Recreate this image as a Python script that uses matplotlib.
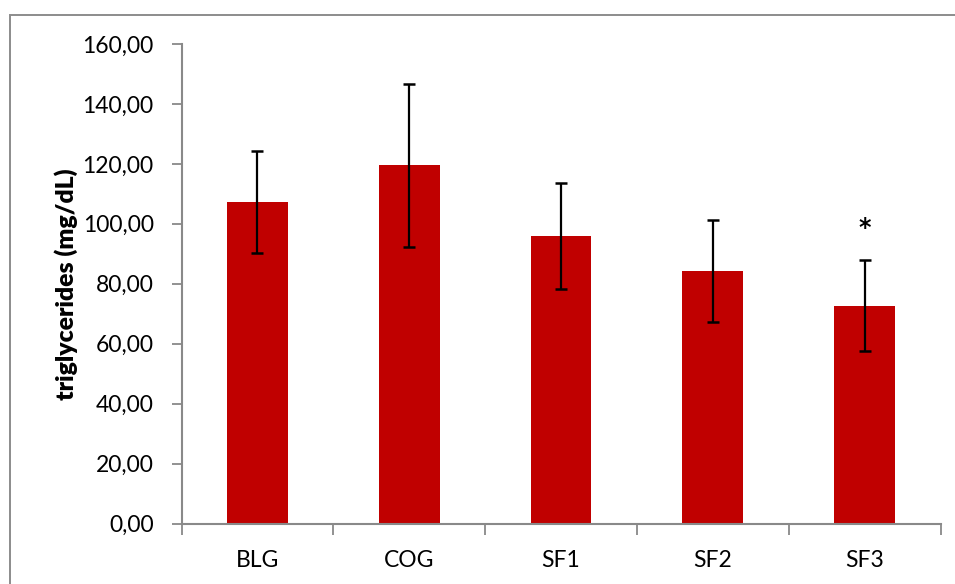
import matplotlib
matplotlib.use("Agg")
import matplotlib.pyplot as plt
import matplotlib.transforms as mtransforms
from matplotlib.patches import Rectangle
from matplotlib.ticker import FuncFormatter, FixedLocator

groups = ["BLG", "COG", "SF1", "SF2", "SF3"]
means = [107.2, 119.5, 96.0, 84.2, 72.7]
err_upper = [124.3, 146.6, 113.7, 101.3, 87.9]
err_lower = [90.3, 92.4, 78.4, 67.3, 57.6]
y_ticks = [0, 20, 40, 60, 80, 100, 120, 140, 160]
starred = ["SF3"]
star_height = 99.7

tick_font = ["Lato", "DejaVu Sans"]
axis_gray = "#898989"

fig = plt.figure(figsize=(9.55, 5.84), dpi=100)
ax = fig.add_axes([181.5 / 955, 1 - 523.5 / 584, (940.5 - 181.5) / 955, (523.5 - 44) / 584])

# outer chart frame (runs off the right and bottom edges)
fig.patches.append(Rectangle((10 / 955, -0.05), 1.1, 1 - 15 / 584 + 0.05,
                             transform=fig.transFigure, fill=False,
                             edgecolor="#8c8c8c", linewidth=1.4, zorder=0))

x = list(range(len(groups)))
yerr = [[m - lo for m, lo in zip(means, err_lower)],
        [hi - m for m, hi in zip(means, err_upper)]]
ax.bar(x, means, width=0.4, color="#C00000", zorder=2)
ax.errorbar(x, means, yerr=yerr, fmt="none", ecolor="black",
            elinewidth=1.6, capsize=4.5, capthick=1.8, zorder=3)

star_shift = mtransforms.ScaledTranslation(0, -3 / 100, fig.dpi_scale_trans)
for g in starred:
    i = groups.index(g)
    ax.text(i, star_height, "*", ha="center", va="center",
            fontsize=17, fontweight="bold", family=["DejaVu Sans"],
            transform=ax.transData + star_shift)

ax.set_xlim(-0.5, len(groups) - 0.5)
ax.set_ylim(0, 160)
ax.set_yticks(y_ticks)
ax.yaxis.set_major_formatter(FuncFormatter(lambda v, p: f"{v:.2f}".replace(".", ",")))

ax.set_xticks(x)
ax.set_xticklabels(groups)
ax.tick_params(axis="x", which="major", length=0, pad=19)
ax.xaxis.set_minor_locator(FixedLocator([i - 0.5 for i in range(len(groups) + 1)]))
ax.tick_params(axis="x", which="minor", length=8, width=1.3, color=axis_gray, direction="out")
ax.tick_params(axis="y", length=7, width=1.3, color=axis_gray, direction="out", pad=13)

for lab in ax.get_xticklabels() + ax.get_yticklabels():
    lab.set_family(tick_font)
    lab.set_fontsize(16.5)
    lab.set_color("black")

for s in ["top", "right"]:
    ax.spines[s].set_visible(False)
for s in ["left", "bottom"]:
    ax.spines[s].set_color(axis_gray)
    ax.spines[s].set_linewidth(1.5)

ax.set_ylabel("triglycerides (mg/dL)", fontsize=17.8, fontweight="heavy",
              family=["Lato", "DejaVu Sans"], labelpad=3)

fig.savefig("out.png", dpi=100)
